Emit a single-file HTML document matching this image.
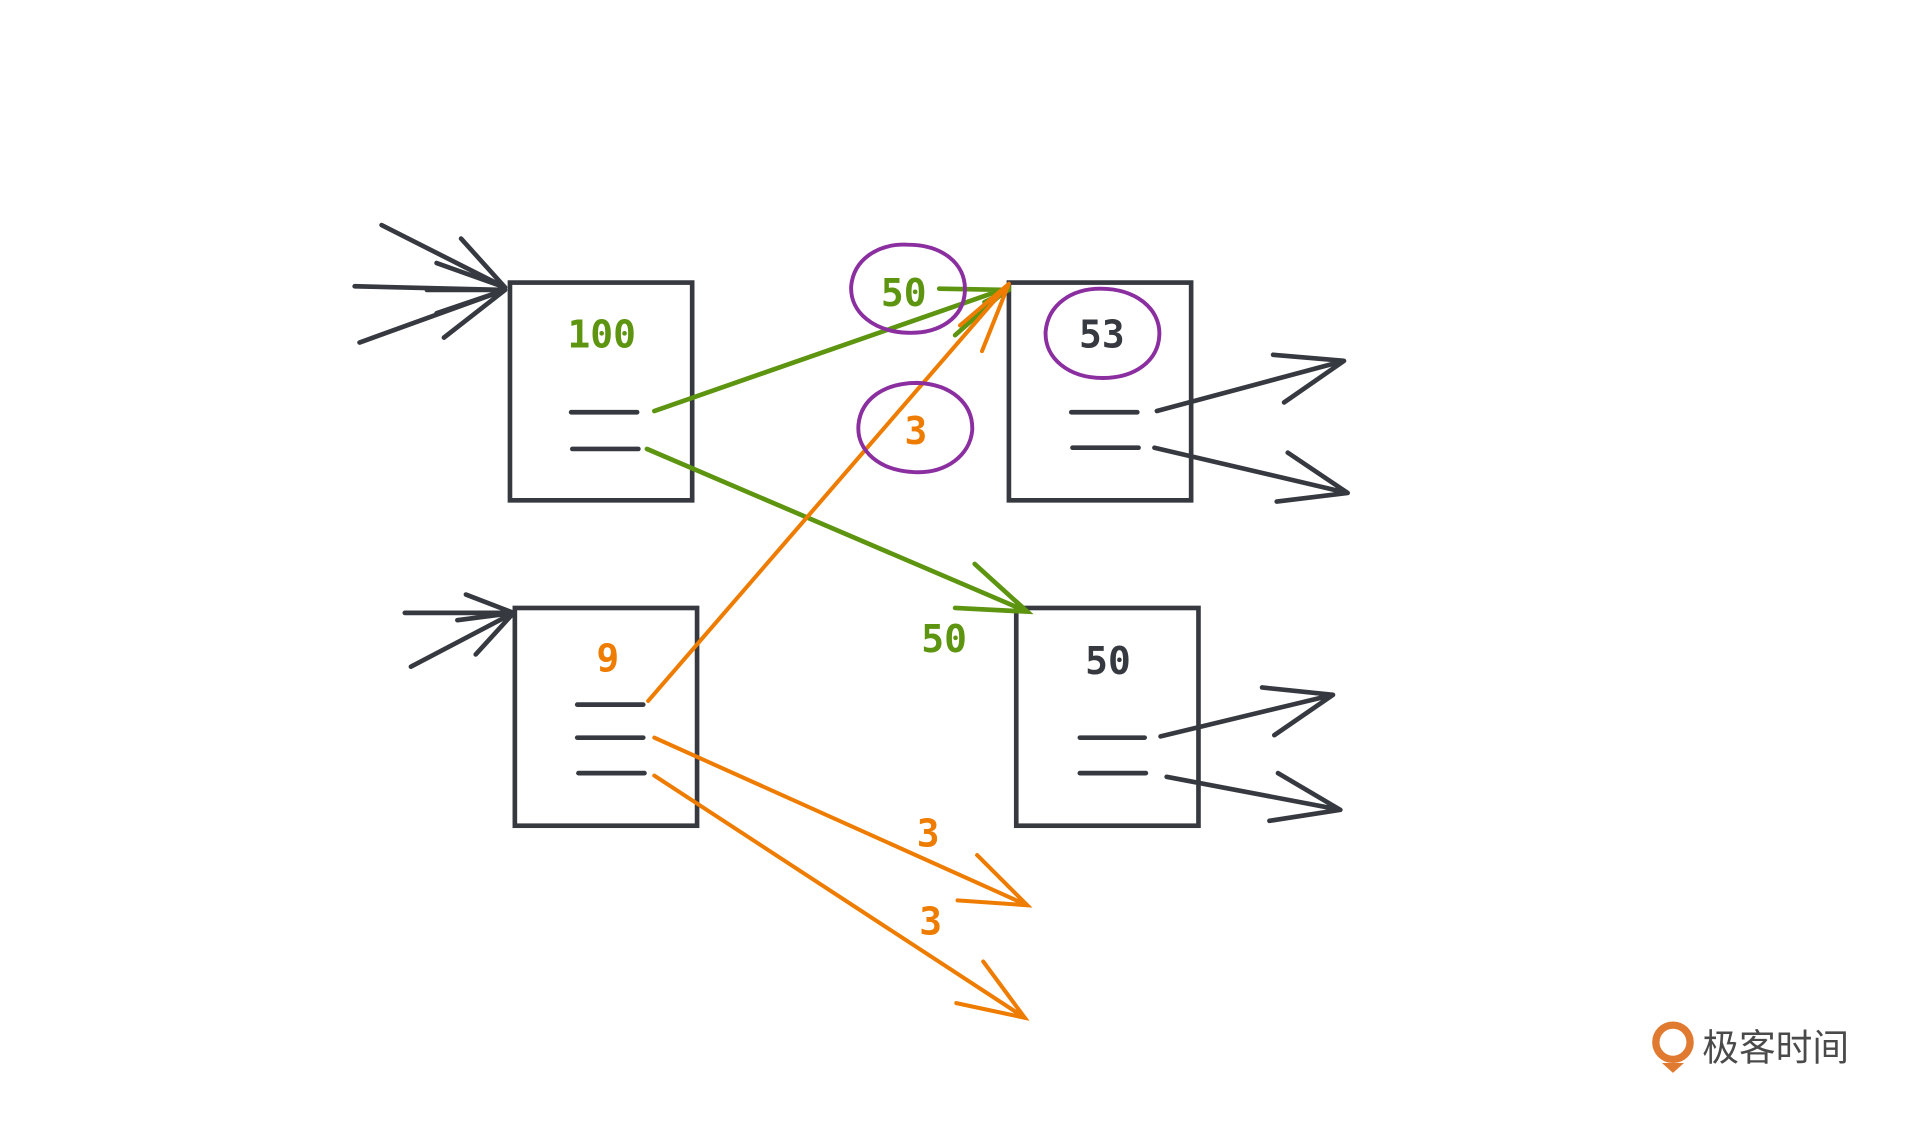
<!DOCTYPE html>
<html><head><meta charset="utf-8"><style>
html,body{margin:0;padding:0;background:#fff;width:1920px;height:1145px;overflow:hidden}
</style></head><body>
<svg width="1920" height="1145" viewBox="0 0 1570 936" preserveAspectRatio="none" xmlns="http://www.w3.org/2000/svg">
<g fill="none" stroke="#363a40" stroke-width="3.8" stroke-linecap="round">
<rect x="417" y="231" width="149" height="178"/>
<rect x="825" y="231" width="149" height="178"/>
<rect x="421" y="497" width="149" height="178"/>
<rect x="831" y="497" width="149" height="178"/>
<line x1="467" y1="337" x2="521" y2="337"/><line x1="468" y1="367" x2="522" y2="367"/>
<line x1="876" y1="337" x2="930" y2="337"/><line x1="877" y1="366" x2="931" y2="366"/>
<line x1="472" y1="576" x2="526" y2="576"/><line x1="472" y1="603" x2="526" y2="603"/><line x1="473" y1="632" x2="527" y2="632"/>
<line x1="883" y1="603" x2="936" y2="603"/><line x1="883" y1="632" x2="937" y2="632"/>
<path d="M312 184 L413 235 M290 234 L413 237 M294 280 L413 237 M377 195 L413 235 L357 215 M349 237 L413 237 M363 276 L413 237 L357 256"/>
<path d="M331 501 L420 501 M336 545 L420 501 M381 486 L420 501 L374 507 M389 535 L420 501"/>
<path d="M946 336 L1099 295 L1041 290 M1099 295 L1050 329"/>
<path d="M944 366 L1102 403 L1053 370 M1102 403 L1044 410"/>
<path d="M949 602 L1090 568 L1032 562 M1090 568 L1042 601"/>
<path d="M954 635 L1096 662 L1045 632 M1096 662 L1038 671"/>
</g>
<g fill="none" stroke="#5d9410" stroke-width="3.8" stroke-linecap="round">
<path d="M535 336 L825 235 M768 236 L825 237 M781 274 L825 235 M805 247 L825 237"/>
<path d="M529 367 L840 500 M797 461 L840 500 L781 497"/>
</g>
<g fill="none" stroke="#ee7c00" stroke-width="3.3" stroke-linecap="round">
<path d="M530 573 L825 232 M803 287 L825 232 L785 266"/>
<path d="M535 603 L840 740 M799 699 L840 740 L783 736"/>
<path d="M535 634 L838 832 M804 786 L838 832 L782 820"/>
</g>
<g fill="none" stroke="#8a2ea0" stroke-width="3.2">
<path d="M742 200 C770 200 790 215 789 238 C788 260 768 273 742 272 C714 271 695 255 696 234 C698 212 718 199 742 200Z"/>
<path d="M750 313 C778 314 796 330 795 352 C793 372 774 387 748 386 C720 385 700 369 702 347 C704 327 722 313 750 313Z"/>
<path d="M900 236 C928 236 949 252 948 274 C947 295 928 309 902 309 C874 309 854 293 855 271 C857 249 876 236 900 236Z"/>
</g>
<g font-family="'DejaVu Sans Mono','Liberation Mono',monospace" font-size="31" font-weight="bold" text-anchor="middle">
<text x="492" y="284" fill="#5d9410">100</text>
<text x="739" y="250" fill="#5d9410">50</text>
<text x="772" y="533" fill="#5d9410">50</text>
<text x="901" y="284" fill="#363a40">53</text>
<text x="906" y="551" fill="#363a40">50</text>
<text x="749" y="363" fill="#ee7c00">3</text>
<text x="497" y="549" fill="#ee7c00">9</text>
<text x="759" y="692" fill="#ee7c00">3</text>
<text x="761" y="764" fill="#ee7c00">3</text>
</g>
<circle cx="1368" cy="852" r="14" fill="none" stroke="#e07a30" stroke-width="6"/>
<path d="M1359 869 L1377 869 L1368 877Z" fill="#e07a30"/>
<text x="1392" y="867" font-family="'Noto Sans CJK SC',sans-serif" font-size="30" fill="#4a4a4a">极客时间</text>
</svg>
</body></html>
